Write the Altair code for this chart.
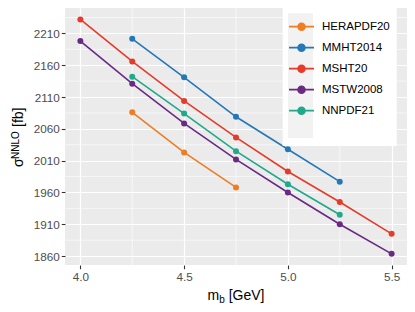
import altair as alt
import pandas as pd

series = ["HERAPDF20", "MMHT2014", "MSHT20", "MSTW2008", "NNPDF21"]
colors = ["#EE7D26", "#2478B8", "#E63B2B", "#6A2A83", "#22A88A"]

mb_hera = [4.25, 4.5, 4.75]
xs_hera = [2086, 2023, 1968]
mb_mmht = [4.25, 4.5, 4.75, 5.0, 5.25]
xs_mmht = [2201.5, 2141, 2079, 2028, 1977]
mb_msht = [4.0, 4.25, 4.5, 4.75, 5.0, 5.25, 5.5]
xs_msht = [2232, 2166, 2104, 2046.5, 1993, 1945, 1895]
mb_mstw = [4.0, 4.25, 4.5, 4.75, 5.0, 5.25, 5.5]
xs_mstw = [2198, 2131, 2068.5, 2012, 1960, 1910, 1863.5]
mb_nnpdf = [4.25, 4.5, 4.75, 5.0, 5.25]
xs_nnpdf = [2142, 2084, 2025, 1973, 1925]

x_ticks = [4.0, 4.5, 5.0, 5.5]
y_ticks = [1860, 1910, 1960, 2010, 2060, 2110, 2160, 2210]
x_minor = [4.25, 4.75, 5.25]
y_minor = [1885, 1935, 1985, 2035, 2085, 2135, 2185, 2235]

rows = []
for name, mbs, xss in [("HERAPDF20", mb_hera, xs_hera), ("MMHT2014", mb_mmht, xs_mmht),
                       ("MSHT20", mb_msht, xs_msht), ("MSTW2008", mb_mstw, xs_mstw),
                       ("NNPDF21", mb_nnpdf, xs_nnpdf)]:
    for m, v in zip(mbs, xss):
        rows.append({"pdf": name, "mb": m, "xs": v})
df = pd.DataFrame(rows)

FONT = "Liberation Sans"
x_scale = alt.Scale(domain=[3.926, 5.574], nice=False, zero=False)
y_scale = alt.Scale(domain=[1846, 2250], nice=False, zero=False)
color_scale = alt.Scale(domain=series, range=colors)

x_axis = alt.Axis(values=x_ticks, format=".1f", title=None, domain=False,
                  grid=True, gridColor="white", gridWidth=1.2,
                  tickColor="#333333", tickSize=3.7, tickWidth=1.1,
                  labelColor="#4D4D4D", labelFont=FONT, labelFontSize=11.7,
                  labelPadding=2.5)
y_axis = alt.Axis(values=y_ticks, format="d", title=None, domain=False,
                  grid=True, gridColor="white", gridWidth=1.2,
                  tickColor="#333333", tickSize=3.7, tickWidth=1.1,
                  labelColor="#4D4D4D", labelFont=FONT, labelFontSize=11.7,
                  labelPadding=2)

sym = "M-1,0H1M0.27,0A0.27,0.27,0,1,1,-0.27,0A0.27,0.27,0,1,1,0.27,0Z"
legend = alt.Legend(orient="none", legendX=223, legendY=5.2, title=None,
                    symbolType=sym, symbolSize=625, symbolStrokeWidth=1.8,
                    labelFont=FONT, labelFontSize=11.5, labelColor="black",
                    labelOffset=7, rowPadding=0, padding=0, symbolOpacity=1)

rule_x = alt.Chart(pd.DataFrame({"mb": x_minor})).mark_rule(
    color="white", strokeWidth=0.6).encode(x=alt.X("mb:Q", scale=x_scale, axis=x_axis))
rule_y = alt.Chart(pd.DataFrame({"xs": y_minor})).mark_rule(
    color="white", strokeWidth=0.6).encode(y=alt.Y("xs:Q", scale=y_scale, axis=y_axis))

base = alt.Chart(df)
lines = base.mark_line(strokeWidth=1.6).encode(
    x=alt.X("mb:Q", scale=x_scale, axis=x_axis),
    y=alt.Y("xs:Q", scale=y_scale, axis=y_axis),
    color=alt.Color("pdf:N", scale=color_scale, legend=legend),
)
points = base.mark_point(filled=True, size=36, opacity=1).encode(
    x=alt.X("mb:Q", scale=x_scale, axis=x_axis),
    y=alt.Y("xs:Q", scale=y_scale, axis=y_axis),
    color=alt.Color("pdf:N", scale=color_scale, legend=legend),
)

one = pd.DataFrame({"k": [0]})
legend_bg = alt.Chart(one).mark_rect(color="white").encode(
    x=alt.value(217.7), x2=alt.value(331.7), y=alt.value(-3), y2=alt.value(138))
key_bg = alt.Chart(one).mark_rect(color="#F2F2F2").encode(
    x=alt.value(223), x2=alt.value(248), y=alt.value(5.2), y2=alt.value(130.2))


def txt(s, x, y, size, angle=0):
    return alt.Chart(pd.DataFrame({"t": [s]})).mark_text(
        align="left", baseline="alphabetic", font=FONT, fontSize=size,
        color="black", angle=angle).encode(
        text="t:N", x=alt.value(x), y=alt.value(y))


titles = [
    txt("m", 142.5, 292, 14),
    txt("b", 154.2, 295, 10),
    txt("[GeV]", 163.7, 292, 14),
    txt("σ", -42.3, 159, 14, 270),
    txt("NNLO", -46.5, 151, 10, 270),
    txt("[fb]", -42.3, 119, 14, 270),
]

chart = alt.layer(rule_x, rule_y, lines, points, legend_bg, key_bg, *titles).properties(
    width=342, height=257,
    padding={"left": 57, "top": 0, "right": 0, "bottom": 40},
    autosize=alt.AutoSizeParams(type="none"),
).configure_view(fill="#EBEBEB", stroke=None)

chart.save("out.html", embed_options={"renderer": "svg", "actions": False})
